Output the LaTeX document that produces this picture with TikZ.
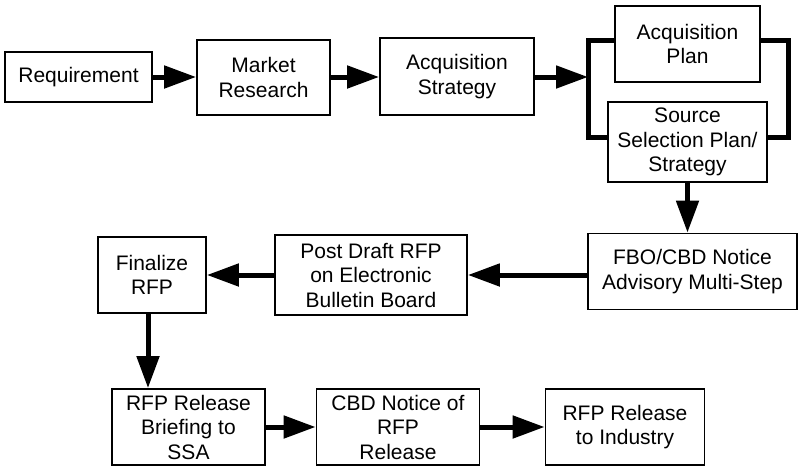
\documentclass[tikz,border=0pt]{standalone}
\usepackage{fontspec}
\setmainfont{Liberation Sans}
\usetikzlibrary{arrows.meta}

\begin{document}
\begin{tikzpicture}[x=1pt,y=-1pt,
    box/.style={draw, line width=1.8pt, align=center, inner sep=0pt,
        font=\fontsize{21}{24.5}\selectfont},
    link/.style={line width=5pt, -{Triangle[length=32pt,width=22pt]}},
    bracket/.style={line width=5pt}]
            \useasboundingbox (0,0) rectangle (799,466);
            % first row
            \node[box, minimum width=147pt, minimum height=50pt] (req) at (78.5,77) {Requirement};
            \node[box, minimum width=133pt, minimum height=75pt] (market) at (263.5,77.5) {Market\\Research};
            \node[box, minimum width=154pt, minimum height=77pt] (strategy) at (457,76.5) {Acquisition\\Strategy};
            \node[box, minimum width=145pt, minimum height=76pt] (plan) at (687.5,44) {Acquisition\\Plan};
            \node[box, minimum width=159pt, minimum height=80pt] (source) at (687.5,142) {Source\\Selection Plan/\\Strategy};
            % second row
            \node[box, minimum width=209pt, minimum height=76pt] (fbo) at (692.5,271.5) {FBO/CBD Notice\\Advisory Multi-Step};
            \node[box, minimum width=192pt, minimum height=80pt] (post) at (371,275) {Post Draft RFP\\on Electronic\\Bulletin Board};
            \node[box, minimum width=108pt, minimum height=76pt] (finalize) at (152,275) {Finalize\\RFP};
            % third row
            \node[box, minimum width=153pt, minimum height=76pt] (briefing) at (188.5,427) {RFP Release\\Briefing to\\SSA};
            \node[box, minimum width=163pt, minimum height=76pt] (cbd) at (398,427) {CBD Notice of\\RFP\\Release};
            \node[box, minimum width=159pt, minimum height=76pt] (industry) at (625,427) {RFP Release\\to Industry};
            % bracket round the two plans
            \coordinate (join) at (588,77);
            \draw[bracket] ([yshift=4pt]plan.west) -| (join) |- ([yshift=5pt]source.west);
            \draw[bracket] ([yshift=4pt]plan.east) -- ++(28,0) |- ([yshift=5pt]source.east);
            % connectors
            \draw[link] (req.east) -- (market.west |- req.east);
            \draw[link] (market.east |- req.east) -- (strategy.west |- req.east);
            \draw[link] (strategy.east |- join) -- (join);
            \draw[link] (source.south) -- (source.south |- fbo.north);
            \draw[link] (fbo.west |- post.east) -- (post.east);
            \draw[link] (post.west) -- (finalize.east);
            \draw[link] ([xshift=-4pt]finalize.south) -- ([xshift=-4pt]finalize.south |- briefing.north);
            \draw[link] (briefing.east) -- (cbd.west);
            \draw[link] (cbd.east) -- (industry.west);
        \end{tikzpicture}
\end{document}
